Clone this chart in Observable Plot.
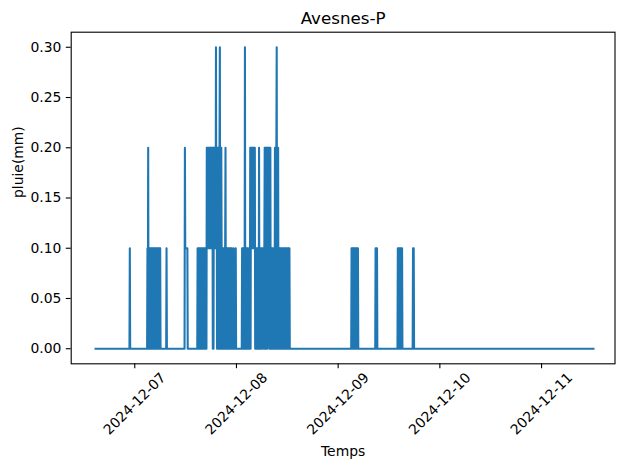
<!DOCTYPE html>
<html><head><meta charset="utf-8">
<script src="https://cdn.jsdelivr.net/npm/d3@7"></script>
<script src="https://cdn.jsdelivr.net/npm/@observablehq/plot@0.6"></script>
<style>body{margin:0;background:#fff} svg{display:block}</style>
</head><body><div id="chart"></div>
<script>
const title = "Avesnes-P";
const xLabel = "Temps";
const yLabel = "pluie(mm)";
const seriesStart = "2024-12-06T14:30Z";
const seriesEnd = "2024-12-11T12:30Z";
const stepMinutes = 5;
// rain readings in tenths of mm, consecutive 5-minute steps from each start time (0 elsewhere)
const rainStarts = [
  "2024-12-06T22:50Z",
  "2024-12-07T03:00Z",
  "2024-12-07T07:30Z",
  "2024-12-07T11:50Z",
  "2024-12-07T14:50Z",
  "2024-12-07T17:00Z",
  "2024-12-08T01:20Z",
  "2024-12-09T03:10Z",
  "2024-12-09T08:50Z",
  "2024-12-09T14:05Z",
  "2024-12-09T17:40Z"
];
const rainTenths = [
  "1",
  "1020101010101010101010101010101010101",
  "1",
  "21111111",
  "10101010101010111010101",
  "212121212121" + "212120202121" + "213120212020" + "230202101010" + "101012010101" + "010101010101" + "000010000010",
  "10101010" + "301010101010" + "010202121212" + "212120101010" + "101020101010" + "101111012020" +
    "202021212020" + "201010101010" + "020202302020" + "101010101010" + "010101010101" + "1010101",
  "1010101010101010101",
  "10101",
  "1010101010101",
  "101"
];
const xTicks = ["2024-12-07", "2024-12-08", "2024-12-09", "2024-12-10", "2024-12-11"];
const yTicks = [0, 0.05, 0.10, 0.15, 0.20, 0.25, 0.30];
const xDomain = ["2024-12-06T09:00Z", "2024-12-11T17:20Z"];
const yDomain = [-0.015, 0.315];

const stepMs = stepMinutes * 60000;
const readings = new Map();
rainStarts.forEach((s, i) => {
  const t0 = new Date(s).getTime();
  [...rainTenths[i]].forEach((c, j) => readings.set(t0 + j * stepMs, +c / 10));
});
const series = [];
const tEnd = new Date(seriesEnd).getTime();
for (let t = new Date(seriesStart).getTime(); t <= tEnd; t += stepMs) {
  series.push({t: new Date(t), v: readings.has(t) ? readings.get(t) : 0});
}
const xTickDates = xTicks.map(d => new Date(d + "T00:00Z"));
const fmtDay = d3.utcFormat("%Y-%m-%d");

const chart = Plot.plot({
  width: 629, height: 469,
  marginTop: 31.7, marginRight: 14.5, marginBottom: 105.7, marginLeft: 70.7,
  style: {fontFamily: "DejaVu Sans", fontSize: "13.9px", background: "white", color: "black"},
  x: {type: "utc", domain: xDomain.map(d => new Date(d)), axis: null},
  y: {domain: yDomain, axis: null},
  marks: [
    Plot.line(series, {x: "t", y: "v", stroke: "#1f77b4", strokeWidth: 2.08, strokeLinejoin: "round", strokeLinecap: "butt"}),
    Plot.frame({stroke: "black", strokeWidth: 1.1}),
    Plot.axisY(yTicks, {tickSize: 4.9, tickPadding: 4.9, tickFormat: d3.format(".2f"), strokeWidth: 1.1, fontSize: 13.9, label: null}),
    Plot.axisX(xTickDates, {tickSize: 4.9, tickFormat: () => "", strokeWidth: 1.1, label: null}),
    Plot.text(xTickDates, {x: d => d, frameAnchor: "bottom", dy: 40, rotate: -45, text: d => fmtDay(d), fontSize: 13.9, textAnchor: "middle", lineAnchor: "middle"}),
    Plot.text([title], {frameAnchor: "top", dy: -13.6, text: d => d, fontSize: 16.7, lineAnchor: "middle"}),
    Plot.text([xLabel], {frameAnchor: "bottom", dy: 87.3, text: d => d, fontSize: 13.9, lineAnchor: "middle"}),
    Plot.text([yLabel], {frameAnchor: "left", dx: -52.7, rotate: -90, text: d => d, fontSize: 13.9, lineAnchor: "middle"})
  ]
});
document.getElementById("chart").appendChild(chart);
</script>
</body></html>
